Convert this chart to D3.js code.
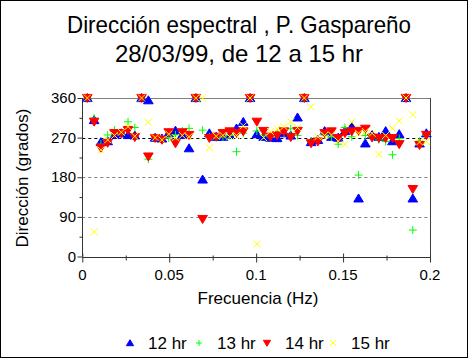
<!DOCTYPE html>
<html><head><meta charset="utf-8">
<script src="https://cdn.jsdelivr.net/npm/d3@7"></script>
<style>body{margin:0;background:#fff}svg{display:block}text{font-family:Arial,"Liberation Sans",sans-serif}</style>
</head><body><svg id="c" width="476" height="360"></svg>
<script>
const freqs=[0.0029,0.0068,0.0107,0.0146,0.0185,0.0224,0.0263,0.0302,0.0341,0.0380,0.0419,0.0458,0.0497,0.0536,0.0575,0.0614,0.0653,0.0692,0.0731,0.0770,0.0809,0.0848,0.0887,0.0926,0.0965,0.1004,0.1043,0.1082,0.1121,0.1160,0.1199,0.1238,0.1277,0.1316,0.1355,0.1394,0.1433,0.1472,0.1511,0.1550,0.1589,0.1628,0.1667,0.1706,0.1745,0.1784,0.1823,0.1862,0.1901,0.1940,0.1979];
const hr12=[360,310,260,262,276,280,276,275,360,355,270,268,280,286,276,246,360,175,280,272,272,276,291,306,360,278,272,270,269,280,275,316,360,260,265,285,272,270,285,295,132,257,276,272,285,262,278,360,132,257,280];
const hr13=[360,314,255,276,287,278,306,293,360,221,270,266,269,276,285,291,360,287,272,270,272,275,238,280,360,285,276,272,280,280,290,275,360,262,265,276,272,255,293,272,185,275,270,265,261,231,268,360,60,262,275];
const hr14=[360,306,247,258,280,280,287,271,360,227,269,265,282,257,282,276,360,85,269,272,280,284,280,284,360,306,285,272,275,284,271,285,360,257,261,280,284,269,280,284,285,290,270,269,269,269,255,360,153,253,276];
const hr15=[360,56,242,265,275,282,295,273,360,305,270,265,278,270,275,272,360,360,247,273,275,272,275,297,360,28,270,284,290,295,306,293,360,340,272,275,276,262,255,305,280,284,280,232,275,291,308,360,322,260,261];
const seriesNames=["12 hr","13 hr","14 hr","15 hr"];
const xTicks=[0,0.05,0.1,0.15,0.2];
const yTicks=[0,90,180,270,360];

const svg=d3.select("#c");
svg.append("rect").attr("x",0.5).attr("y",0.5).attr("width",467).attr("height",357).attr("fill","#fff").attr("stroke","#000");

const x=d3.scaleLinear([0,0.2],[82.3,430]);
const y=d3.scaleLinear([0,360],[256.5,98]);

// title
svg.append("text").attr("x",239).attr("y",33).attr("text-anchor","middle").attr("font-size",24)
 .attr("textLength",344).attr("lengthAdjust","spacingAndGlyphs").text("Dirección espectral , P. Gaspareño");
svg.append("text").attr("x",239).attr("y",62).attr("text-anchor","middle").attr("font-size",24)
 .text("28/03/99, de 12 a 15 hr");

// gridlines
svg.append("g").selectAll("line").data([90,180,270]).join("line")
 .attr("x1",x(0)).attr("x2",x(0.2)).attr("y1",d=>Math.round(y(d))+0.5).attr("y2",d=>Math.round(y(d))+0.5)
 .attr("stroke",d=>d===270?"#000":"#808080").attr("stroke-dasharray","3,3");
svg.append("line").attr("x1",x(0)).attr("x2",x(0.2)).attr("y1",Math.round(y(360))+0.5).attr("y2",Math.round(y(360))+0.5).attr("stroke","#808080");
svg.append("line").attr("x1",Math.round(x(0.2))+0.5).attr("x2",Math.round(x(0.2))+0.5).attr("y1",y(360)).attr("y2",y(0)).attr("stroke","#404040");

// axes
const isMajor=d=>Math.abs(d/0.05-Math.round(d/0.05))<1e-6;
const xa=svg.append("g").attr("transform",`translate(0,${Math.round(y(0))+0.5})`)
 .call(d3.axisBottom(x).tickValues(d3.range(0,0.2001,0.025)).tickSize(4).tickFormat(""));
xa.selectAll(".tick line").attr("y1",d=>isMajor(d)?-4:-2).attr("y2",d=>isMajor(d)?5:3);
xa.select(".domain").attr("d",`M${x(0)},0H${x(0.2)}`);
xa.selectAll("line,path").attr("stroke","#333");
svg.append("g").selectAll("text").data(xTicks).join("text")
 .attr("x",d=>x(d)).attr("y",280).attr("text-anchor","middle").attr("font-size",15).text(d=>d3.format("")(d));

const ya=svg.append("g").attr("transform",`translate(${Math.round(x(0))+0.5},0)`)
 .call(d3.axisLeft(y).tickValues(d3.range(0,361,45)).tickSize(4).tickFormat(""));
ya.selectAll(".tick line").attr("x1",d=>d%90===0?-5:-3).attr("x2",0);
ya.select(".domain").attr("d",`M0,${y(0)}V${y(360)}`);
ya.selectAll("line,path").attr("stroke","#333");
svg.append("g").selectAll("text").data(yTicks).join("text")
 .attr("x",76).attr("y",d=>y(d)+5).attr("text-anchor","end").attr("font-size",15).text(d=>d);

svg.append("text").attr("transform","translate(28,178) rotate(-90)").attr("text-anchor","middle").attr("font-size",17).text("Dirección (grados)");
svg.append("text").attr("x",258).attr("y",304).attr("text-anchor","middle").attr("font-size",17).text("Frecuencia (Hz)");

// markers
const tri=(s)=>`M0,${-s*0.55}L${s*0.6},${s*0.45}L${-s*0.6},${s*0.45}Z`;
const triD=(s)=>`M0,${s*0.55}L${s*0.6},${-s*0.45}L${-s*0.6},${-s*0.45}Z`;
const plus=(s)=>`M${-s/2},0H${s/2}M0,${-s/2}V${s/2}`;
const cross=(s)=>`M${-s/2},${-s/2}L${s/2},${s/2}M${-s/2},${s/2}L${s/2},${-s/2}`;
const styles=[
 {data:hr12,path:tri,fill:"#0000ff",stroke:"#0000ff",size:8},
 {data:hr13,path:plus,fill:"none",stroke:"#00ff00",size:8},
 {data:hr14,path:triD,fill:"#ff0000",stroke:"#ff0000",size:8},
 {data:hr15,path:cross,fill:"none",stroke:"#ffff00",size:7}
];
styles.forEach(st=>{
 svg.append("g").selectAll("path").data(st.data).join("path")
  .attr("transform",(d,i)=>`translate(${x(freqs[i])},${y(d)})`)
  .attr("d",st.path(st.size)).attr("fill",st.fill).attr("stroke",st.stroke).attr("stroke-width",1);
});

// legend
const lx=[130,199,267,333];
seriesNames.forEach((n,i)=>{
 const st=styles[i];
 svg.append("path").attr("transform",`translate(${lx[i]},${343})`).attr("d",st.path(6)).attr("fill",st.fill).attr("stroke",st.stroke);
 svg.append("text").attr("x",lx[i]+18).attr("y",349).attr("font-size",17).text(n);
});
</script></body></html>
